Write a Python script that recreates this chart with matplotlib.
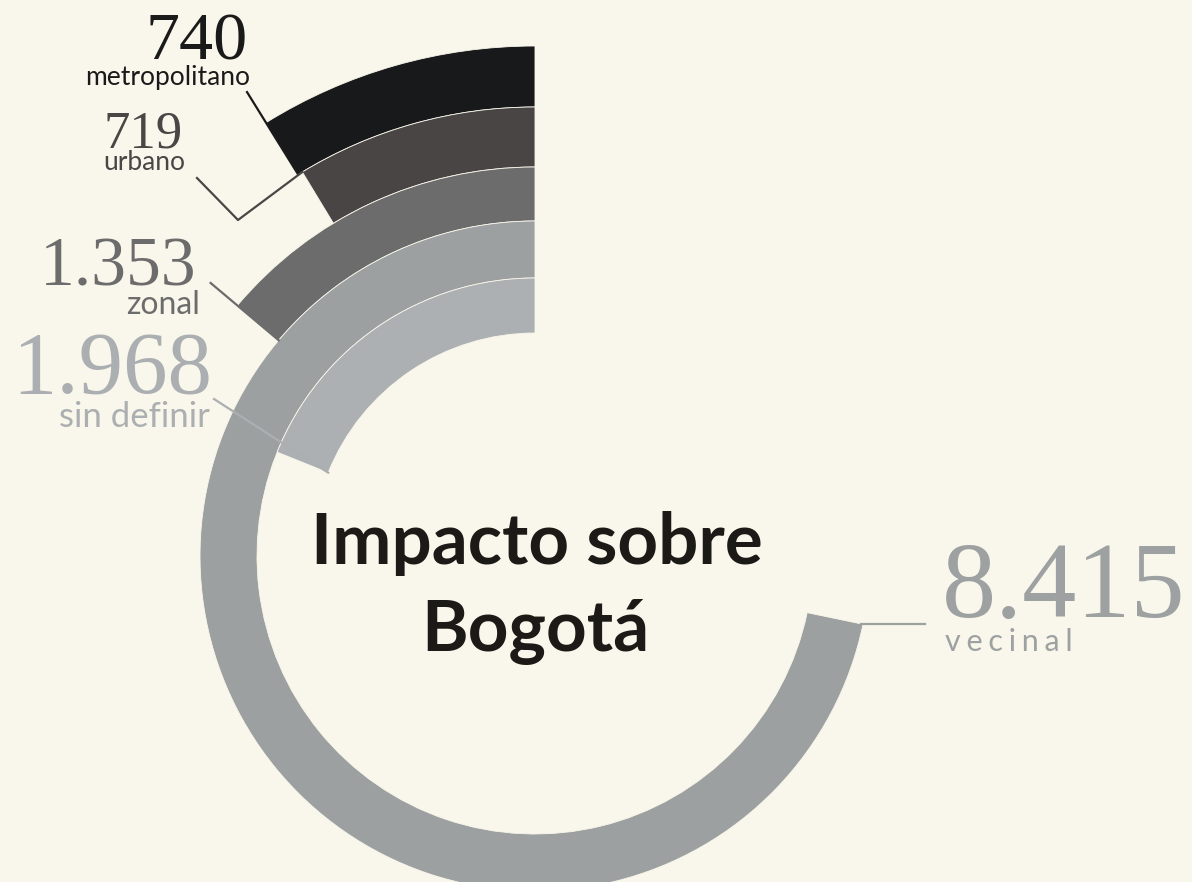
import numpy as np
import matplotlib
matplotlib.use("Agg")
import matplotlib.pyplot as plt

# rings from outside to inside
categories = ["metropolitano", "urbano", "zonal", "vecinal", "sin definir"]
values = [740, 719, 1353, 8415, 1968]
colors = ["#18191b", "#494544", "#6b6c6b", "#9da0a1", "#adb0b2"]
text_colors = ["#1a1a1a", "#4a4646", "#6b6c6b", "#9ea1a2", "#acafb1"]

bg = "#f9f7eb"
W, H = 1192, 882
CX, CY = 535, 556      # centre of the rings, pixels from top-left
RMAX = 560

# ring radii in pixels (inner, outer)
r_in = [449, 389, 335, 278, 223]
r_out = [510, 449, 389, 335, 278]

# angle of each arc (degrees, counter-clockwise from 12 o'clock)
deg_offset, deg_per_unit = 10.0, 0.0295


def arc_angle(v):
    return np.deg2rad(deg_offset + deg_per_unit * v)


fig = plt.figure(figsize=(W / 100, H / 100), dpi=100, facecolor=bg)

ax = fig.add_axes([(CX - RMAX) / W, (H - CY - RMAX) / H, 2 * RMAX / W, 2 * RMAX / H],
                  projection="polar")
ax.set_theta_zero_location("N")
ax.set_theta_direction(1)
ax.set_ylim(0, RMAX)
ax.axis("off")

for v, ri, ro, c in zip(values, r_in, r_out, colors):
    ax.bar(0, ro - ri, width=arc_angle(v), bottom=ri, align="edge",
           color=c, edgecolor=bg, linewidth=0.6)

# overlay axes in pixel coords for labels
ov = fig.add_axes([0, 0, 1, 1])
ov.set_xlim(0, W)
ov.set_ylim(H, 0)
ov.axis("off")


def polar_pt(theta, r):
    x, y = ax.transData.transform((theta, r))
    return x, H - y


def fmt(v):
    return f"{v:,}".replace(",", ".")


num_font = ["Liberation Serif", "DejaVu Serif"]
lab_font = ["Lato", "DejaVu Sans"]

# metropolitano
t = arc_angle(values[0])
ax.plot([t, t], [r_in[0], 546], color=text_colors[0], lw=1.6, clip_on=False)
ov.text(248, 60, fmt(values[0]), ha="right", va="baseline", fontsize=49,
        color=text_colors[0], family=num_font)
ov.text(250, 85, categories[0], ha="right", va="baseline", fontsize=19,
        color=text_colors[0], family=lab_font)

# urbano
t = arc_angle(values[1])
x0, y0 = polar_pt(t, r_out[1])
ov.plot([x0, 238, 197], [y0, 220, 178], color=text_colors[1], lw=1.6)
ov.text(183, 148, fmt(values[1]), ha="right", va="baseline", fontsize=38,
        color=text_colors[1], family=num_font)
ov.text(185, 170, categories[1], ha="right", va="baseline", fontsize=19,
        color=text_colors[1], family=lab_font)

# zonal
t = arc_angle(values[2])
ax.plot([t, t], [r_in[2], 424], color=text_colors[2], lw=1.6, clip_on=False)
ov.text(197, 285, fmt(values[2]), ha="right", va="baseline", fontsize=50,
        color=text_colors[2], family=num_font)
ov.text(200, 314, categories[2], ha="right", va="baseline", fontsize=23,
        color=text_colors[2], family=lab_font)

# sin definir
t = arc_angle(values[4])
x0, y0 = polar_pt(t, r_in[4])
ov.plot([x0, 214], [y0, 399], color=text_colors[4], lw=1.6)
ov.text(212, 393, fmt(values[4]), ha="right", va="baseline", fontsize=64,
        color=text_colors[4], family=num_font)
ov.text(210, 427, categories[4], ha="right", va="baseline", fontsize=25,
        color=text_colors[4], family=lab_font)

# vecinal
t = arc_angle(values[3])
x0, y0 = polar_pt(t, r_out[3])
ov.plot([x0 - 2, 925], [y0, y0], color=text_colors[3], lw=1.6)
ov.text(942, 617, fmt(values[3]), ha="left", va="baseline", fontsize=78,
        color=text_colors[3], family=num_font)
ov.text(945, 651, "\u2009\u200a".join(categories[3]), ha="left", va="baseline",
        fontsize=22, color=text_colors[3], family=lab_font)

# centre title
title_font = ["Lato", "DejaVu Sans"]
ov.text(537, 564, "Impacto sobre", ha="center", va="baseline", fontsize=51,
        fontweight="bold", color="#1b1a17", family=title_font)
ov.text(535, 651, "Bogotá", ha="center", va="baseline", fontsize=51,
        fontweight="bold", color="#1b1a17", family=title_font)

fig.savefig("out.png", dpi=100, facecolor=bg)
